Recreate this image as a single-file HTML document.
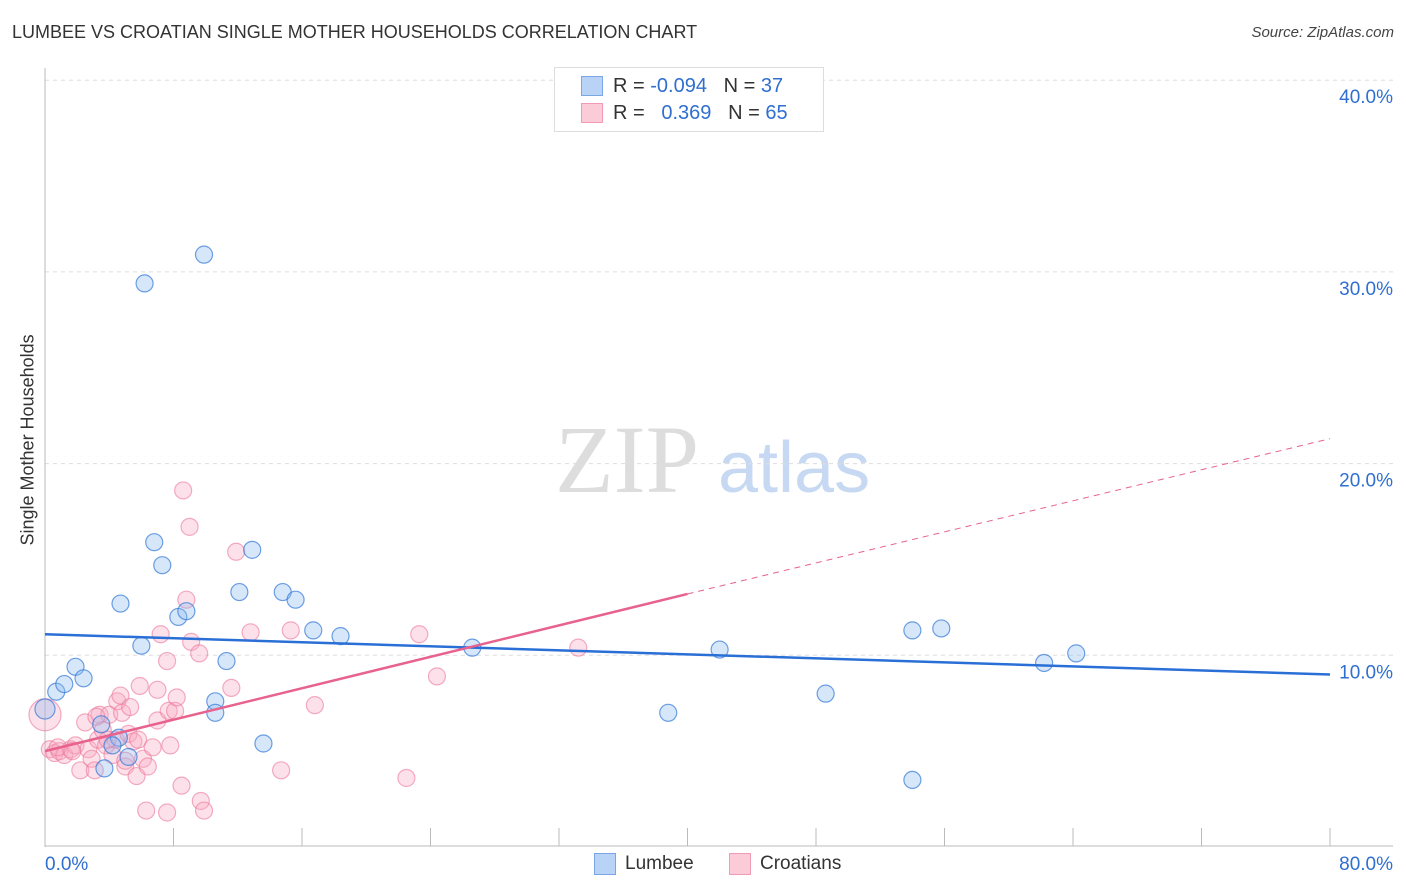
<!DOCTYPE html>
<html><head><meta charset="utf-8"><style>
body{margin:0;background:#fff;font-family:"Liberation Sans",sans-serif;}
#wrap{position:relative;width:1406px;height:892px;overflow:hidden;}
.t{position:absolute;white-space:nowrap;}
</style></head><body>
<div id="wrap">
<div class="t" style="left:12px;top:22px;font-size:18px;color:#333;">LUMBEE VS CROATIAN SINGLE MOTHER HOUSEHOLDS CORRELATION CHART</div>
<div class="t" style="right:12px;top:24px;font-size:15px;color:#444;font-style:italic;">Source: ZipAtlas.com</div>
<div class="t" style="left:-62px;top:445px;font-size:18px;color:#333;transform:rotate(-90deg);width:180px;text-align:center;">Single Mother Households</div>
<svg id="svg" width="1406" height="892" style="position:absolute;left:0;top:0">
<text x="555" y="492" font-family="Liberation Serif,serif" font-size="96" fill="#ddd">ZIP</text>
<text x="718" y="492" font-family="Liberation Sans,sans-serif" font-size="72" fill="#c7d9f2">atlas</text>
</svg>
<div style="position:absolute;left:554px;top:67px;width:268px;height:63px;border:1px solid #ddd;background:#fff;">
<div style="position:absolute;left:26px;top:8px;width:20px;height:18px;background:#b8d3f5;border:1px solid #7aa6e6;"></div>
<div class="t" style="left:58px;top:7px;font-size:20px;color:#333;">R = <span style="color:#2f6fd0">-0.094</span>&nbsp;&nbsp;&nbsp;N = <span style="color:#2f6fd0">37</span></div>
<div style="position:absolute;left:26px;top:35px;width:20px;height:18px;background:#fbcbd8;border:1px solid #f09ab3;"></div>
<div class="t" style="left:58px;top:34px;font-size:20px;color:#333;">R = &nbsp;&nbsp;<span style="color:#2f6fd0">0.369</span>&nbsp;&nbsp;&nbsp;N = <span style="color:#2f6fd0">65</span></div>
</div>
<div style="position:absolute;left:594px;top:853px;">
<div style="position:absolute;left:0;top:0;width:20px;height:20px;background:#b8d3f5;border:1px solid #7aa6e6;"></div>
<div class="t" style="left:31px;top:0;font-size:19px;color:#333;">Lumbee</div></div>
<div style="position:absolute;left:729px;top:853px;">
<div style="position:absolute;left:0;top:0;width:20px;height:20px;background:#fbcbd8;border:1px solid #f09ab3;"></div>
<div class="t" style="left:31px;top:0;font-size:19px;color:#333;">Croatians</div></div>
</div>
<script>
const xTicks=[0,80];
const yTicks=[10,20,30,40];
const lumbeeX=[0.0,0.7,1.2,1.9,2.4,4.7,3.5,4.6,3.7,4.2,5.2,6.0,6.2,6.8,7.3,8.3,8.8,9.9,10.6,10.6,11.3,12.1,12.9,13.6,14.8,15.6,16.7,18.4,26.6,38.8,42.0,48.6,54.0,54.0,55.8,62.2,64.2];
const lumbeeY=[7.2,8.1,8.5,9.4,8.8,12.7,6.4,5.7,4.1,5.3,4.7,10.5,29.4,15.9,14.7,12.0,12.3,30.9,7.6,7.0,9.7,13.3,15.5,5.4,13.3,12.9,11.3,11.0,10.4,7.0,10.3,8.0,11.3,3.5,11.4,9.6,10.1];
const croatX=[0.0,0.3,0.6,0.9,1.2,1.6,1.9,2.2,2.5,2.7,2.9,3.1,3.3,3.4,3.6,3.8,4.0,4.2,4.4,4.5,4.7,4.8,5.0,5.2,5.3,5.5,5.7,5.8,5.9,6.1,6.3,6.4,7.0,7.0,7.2,7.6,7.6,7.7,8.1,8.2,8.5,8.6,8.8,9.0,9.1,9.6,9.7,9.9,11.6,11.9,12.8,14.7,15.3,16.8,22.5,23.3,24.4,33.2,0.8,1.7,3.9,3.2,5.0,6.7,7.8];
const croatY=[6.9,5.1,4.9,5.0,4.8,5.1,5.3,4.0,6.5,5.1,4.6,4.0,5.6,6.9,6.1,5.3,6.9,4.8,5.6,7.6,7.9,7.0,4.2,5.9,7.3,5.5,3.7,5.6,8.4,4.6,1.9,4.2,6.6,8.2,11.1,1.8,9.7,7.1,7.1,7.8,3.2,18.6,12.9,16.7,10.7,10.1,2.4,1.9,8.3,15.4,11.2,4.0,11.3,7.4,3.6,11.1,8.9,10.4,5.2,5.0,5.6,6.8,4.5,5.2,5.3];
const blueFit=[11.1,9.0];
const pinkFit=[5.0,13.2,21.3];
const svg=document.getElementById('svg');
const NS='http://www.w3.org/2000/svg';
const X0=45,X1=1330,Y0=847,PY=19.17;
function sx(v){return X0+(v/80)*(X1-X0);}
function sy(v){return Y0-v*PY;}
function mk(t,a){const e=document.createElementNS(NS,t);for(const k in a)e.setAttribute(k,a[k]);svg.appendChild(e);return e;}
yTicks.forEach(v=>{
const g=mk('line',{x1:X0,x2:1393,y1:sy(v),y2:sy(v),stroke:'#ddd','stroke-dasharray':'4,4'});


const t=mk('text',{x:1393,y:sy(v)+23,'text-anchor':'end','font-size':19,fill:'#2f6fd0','font-family':'Liberation Sans,sans-serif'});
t.textContent=v.toFixed(1)+'%';


});
const ax=mk('line',{x1:X0,x2:X0,y1:68,y2:847,stroke:'#bbb'});


const bx=mk('line',{x1:X0,x2:1393,y1:846,y2:846,stroke:'#bbb'});


for(let i=1;i<=10;i++){const tk=mk('line',{x1:sx(i*8),x2:sx(i*8),y1:828,y2:846,stroke:'#bbb'});

}
xTicks.forEach((v,i)=>{const t=mk('text',{x:i?1393:45,y:870,'text-anchor':i?'end':'start','font-size':19,fill:'#2f6fd0','font-family':'Liberation Sans,sans-serif'});
t.textContent=v.toFixed(1)+'%';

});
croatX.forEach((x,i)=>{const c=mk('circle',{cx:sx(x),cy:sy(croatY[i]),r:i==0?16:8.5,fill:'rgba(248,170,195,0.35)',stroke:'rgba(235,120,155,0.6)','stroke-width':1.2});

});
lumbeeX.forEach((x,i)=>{const c=mk('circle',{cx:sx(x),cy:sy(lumbeeY[i]),r:i==0?10:8.5,fill:'rgba(140,185,240,0.35)',stroke:'rgba(50,120,215,0.7)','stroke-width':1.2});

});
const bl=mk('line',{x1:sx(0),y1:sy(blueFit[0]),x2:sx(80),y2:sy(blueFit[1]),stroke:'#2a6fd6','stroke-width':2.5});


const pl=mk('line',{x1:sx(0),y1:sy(pinkFit[0]),x2:sx(40),y2:sy(pinkFit[1]),stroke:'#e8628e','stroke-width':2.5});


const pd=mk('line',{x1:sx(40),y1:sy(pinkFit[1]),x2:sx(80),y2:sy(pinkFit[2]),stroke:'#e8628e','stroke-width':1,'stroke-dasharray':'6,5'});


</script>
</body></html>
